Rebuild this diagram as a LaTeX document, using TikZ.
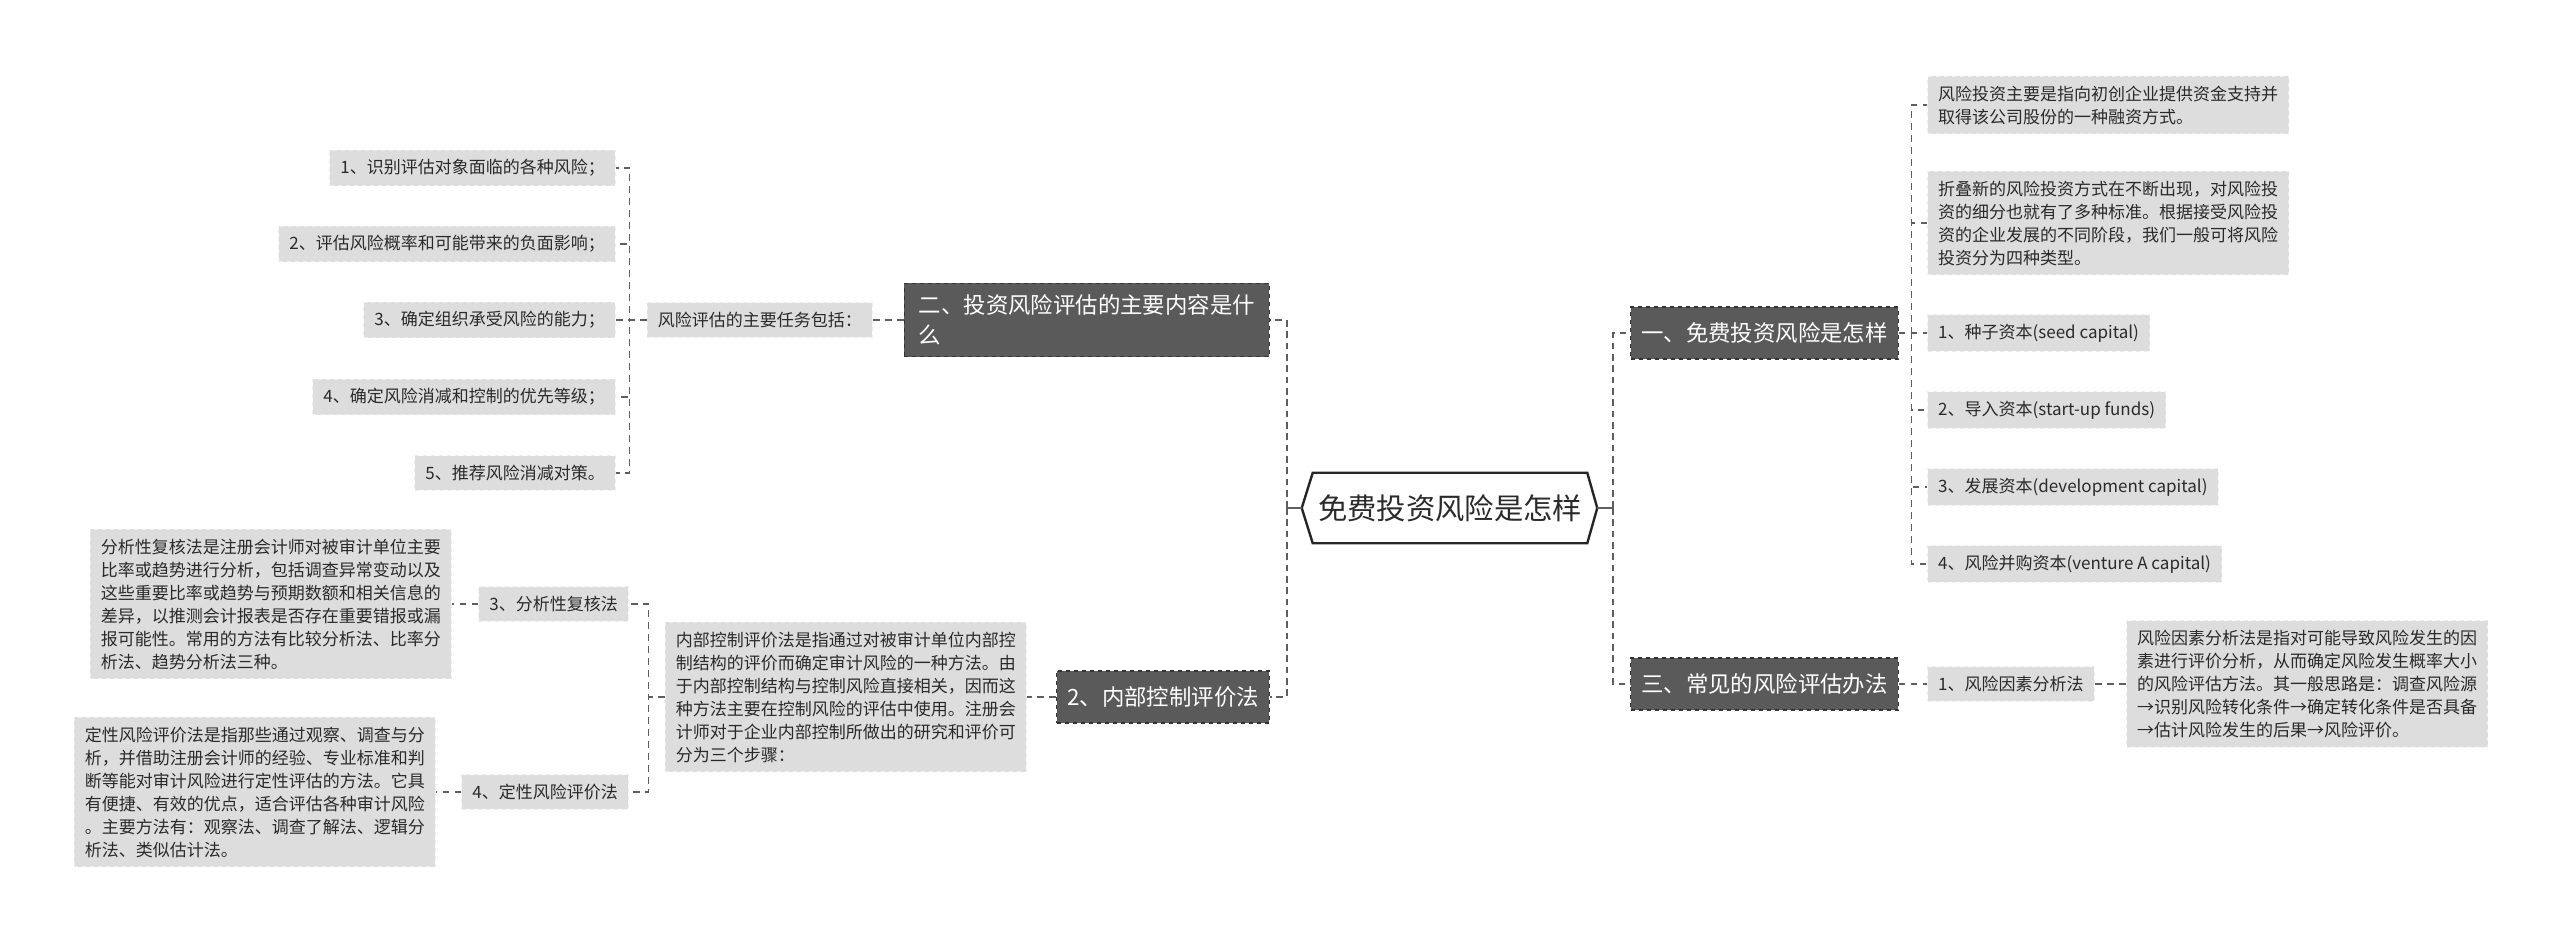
\documentclass[tikz,border=0pt]{standalone}
\usepackage{fontspec}
\setmainfont{Noto Sans CJK SC}
\usetikzlibrary{calc}
\definecolor{darkfill}{HTML}{5A5A5A}
\definecolor{darkborder}{HTML}{333333}
\definecolor{lightfill}{HTML}{DDDDDD}
\definecolor{lightborder}{HTML}{EEEEEE}
\definecolor{linegray}{HTML}{5E5E5E}
\definecolor{txt}{HTML}{2A2A2A}
\begin{document}
\begin{tikzpicture}[x=0.75pt,y=-0.75pt,
 rootnode/.style={inner sep=0pt, minimum width=205.5pt, minimum height=52.5pt, font=\fontsize{22pt}{26pt}\selectfont, text=txt},
 rootborder/.style={draw=black!85, line width=1.8pt, line join=miter},
 darknode/.style={fill=darkfill, draw=darkborder, dashed, line width=0.8pt, text=white, font=\fontsize{16.8pt}{22.5pt}\selectfont, inner xsep=8pt, inner ysep=6pt, minimum height=39pt, align=left},
 lightnode/.style={fill=lightfill, draw=lightborder, dashed, line width=0.8pt, text=txt, font=\fontsize{12.75pt}{17.25pt}\selectfont, inner xsep=8pt, inner ysep=7pt, minimum height=25.5pt, align=left},
 rootline/.style={draw=linegray, line width=1.8pt, dash pattern=on 5pt off 3.5pt},
 branchline/.style={draw=linegray, line width=0.9pt, dash pattern=on 5pt off 4pt},
 tickline/.style={draw=linegray, line width=1.8pt}]
\useasboundingbox (0,0) rectangle (2560,940);

% root
\node[rootnode] (root) at (1450,508) {免费投资风险是怎样};
\coordinate (rootL) at ($(root.west)+(-11,0)$);
\coordinate (rootR) at ($(root.east)+(10,0)$);
\draw[rootborder] (rootL) -- (root.north west) -- (root.north east) -- (rootR) -- (root.south east) -- (root.south west) -- cycle;
\coordinate (jR) at ($(rootR)+(16,0)$);
\coordinate (jL) at ($(rootL)+(-15,0)$);

% right side
\node[darknode, anchor=west] (n1) at (1630,333) {一、免费投资风险是怎样};
\node[darknode, anchor=west] (n3) at (1630,684) {三、常见的风险评估办法};

\node[lightnode, anchor=west] (r1) at (1927,105) {风险投资主要是指向初创企业提供资金支持并\\取得该公司股份的一种融资方式。};
\node[lightnode, anchor=west] (r2) at (1927,223) {折叠新的风险投资方式在不断出现，对风险投\\资的细分也就有了多种标准。根据接受风险投\\资的企业发展的不同阶段，我们一般可将风险\\投资分为四种类型。};
\node[lightnode, anchor=west] (r3) at (1927,333) {1、种子资本(seed capital)};
\node[lightnode, anchor=west] (r4) at (1927,410) {2、导入资本(start-up funds)};
\node[lightnode, anchor=west] (r5) at (1927,487) {3、发展资本(development capital)};
\node[lightnode, anchor=west] (r6) at (1927,564) {4、风险并购资本(venture A capital)};
\node[lightnode, anchor=west] (r7) at (1927,684) {1、风险因素分析法};
\node[lightnode, anchor=west] (r8) at (2126,684) {风险因素分析法是指对可能导致风险发生的因\\素进行评价分析，从而确定风险发生概率大小\\的风险评估方法。其一般思路是：调查风险源\\→识别风险转化条件→确定转化条件是否具备\\→估计风险发生的后果→风险评价。};

% left side
\node[darknode, anchor=east, inner xsep=11pt, inner ysep=8.5pt] (n2) at (1270,320) {二、投资风险评估的主要内容是什\\么};
\node[darknode, anchor=east] (n4) at (1270,697) {2、内部控制评价法};

\node[lightnode, anchor=east] (l0) at (873,320) {风险评估的主要任务包括：};
\node[lightnode, anchor=east] (l1) at (616,168) {1、识别评估对象面临的各种风险；};
\node[lightnode, anchor=east] (l2) at (616,244) {2、评估风险概率和可能带来的负面影响；};
\node[lightnode, anchor=east] (l3) at (616,320) {3、确定组织承受风险的能力；};
\node[lightnode, anchor=east] (l4) at (616,397) {4、确定风险消减和控制的优先等级；};
\node[lightnode, anchor=east] (l5) at (616,473) {5、推荐风险消减对策。};

\node[lightnode, anchor=east] (b) at (1027,697) {内部控制评价法是指通过对被审计单位内部控\\制结构的评价而确定审计风险的一种方法。由\\于内部控制结构与控制风险直接相关，因而这\\种方法主要在控制风险的评估中使用。注册会\\计师对于企业内部控制所做出的研究和评价可\\分为三个步骤：};
\node[lightnode, anchor=east] (m1) at (629,604) {3、分析性复核法};
\node[lightnode, anchor=east] (m2) at (629,792) {4、定性风险评价法};
\node[lightnode, anchor=east] (mb1) at (452,604) {分析性复核法是注册会计师对被审计单位主要\\比率或趋势进行分析，包括调查异常变动以及\\这些重要比率或趋势与预期数额和相关信息的\\差异，以推测会计报表是否存在重要错报或漏\\报可能性。常用的方法有比较分析法、比率分\\析法、趋势分析法三种。};
\node[lightnode, anchor=east] (mb2) at (436,792) {定性风险评价法是指那些通过观察、调查与分\\析，并借助注册会计师的经验、专业标准和判\\断等能对审计风险进行定性评估的方法。它具\\有便捷、有效的优点，适合评估各种审计风险\\。主要方法有：观察法、调查了解法、逻辑分\\析法、类似估计法。};

% root connectors
\draw[tickline] (rootR) -- (jR);
\draw[tickline] (rootL) -- (jL);
\draw[rootline] (jR) |- (n1.west);
\draw[rootline] (jR) |- (n3.west);
\draw[rootline] (jL) |- (n2.east);
\draw[rootline] (jL) |- (n4.east);

% right branch connectors
\foreach \t in {r1,r2,r3,r4,r5,r6} {
  \draw[branchline] (n1.east) -- ++(13,0) |- (\t.west);
}
\draw[branchline] (n3.east) -- (r7.west);
\draw[branchline] (r7.east) -- (r8.west);

% left branch connectors
\draw[branchline] (n2.west) -- (l0.east);
\foreach \t in {l1,l2,l3,l4,l5} {
  \draw[branchline] (l0.west) -- ++(-17,0) |- (\t.east);
}
\draw[branchline] (n4.west) -- (b.east);
\foreach \t in {m1,m2} {
  \draw[branchline] (b.west) -- ++(-16,0) |- (\t.east);
}
\draw[branchline] (m1.west) -- (mb1.east);
\draw[branchline] (m2.west) -- (mb2.east);
\end{tikzpicture}
\end{document}
